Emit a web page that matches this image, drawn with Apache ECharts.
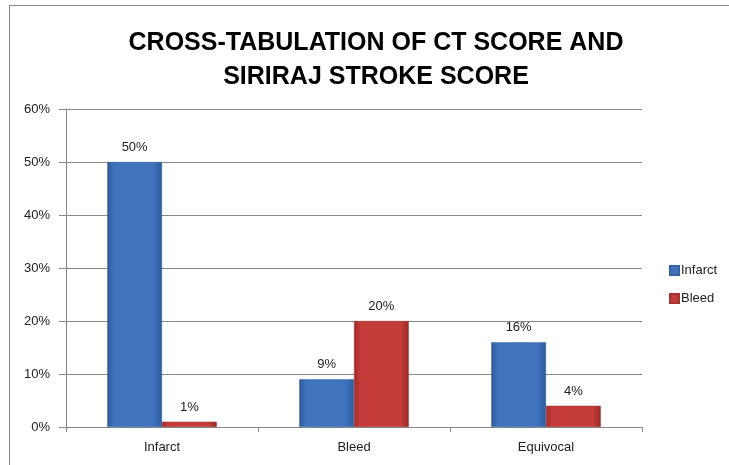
<!DOCTYPE html>
<html><head><meta charset="utf-8">
<script src="https://cdn.jsdelivr.net/npm/echarts@6/dist/echarts.min.js"></script>
<style>html,body{margin:0;padding:0;background:#fff}#c{width:729px;height:465px}</style>
</head><body><div id="c"></div>
<script>
const categories = ['Infarct', 'Bleed', 'Equivocal'];
const infarct = [50, 9, 16];
const bleed = [1, 20, 4];
const yTicks = [0, 10, 20, 30, 40, 50, 60];
const titleLines = ['CROSS-TABULATION OF CT SCORE AND', 'SIRIRAJ STROKE SCORE'];

const font = "'Liberation Sans', Arial, sans-serif";
function grad(edge, mid) {
  return new echarts.graphic.LinearGradient(0, 0, 1, 0, [
    {offset: 0, color: edge}, {offset: 0.12, color: mid}, {offset: 0.85, color: mid}, {offset: 1, color: edge}
  ]);
}
const chart = echarts.init(document.getElementById('c'), null, {renderer: 'canvas'});
chart.setOption({
  animation: false,
  backgroundColor: '#fff',
  title: {
    text: titleLines.join('\n'), left: 371, top: 21, textAlign: 'center',
    textStyle: {fontFamily: font, fontWeight: 'bold', fontSize: 25, color: '#000', lineHeight: 34}
  },
  graphic: [{type: 'rect', shape: {x: 9.5, y: 5.5, width: 740, height: 480}, style: {fill: 'none', stroke: '#888', lineWidth: 1}, silent: true}],
  legend: {
    orient: 'vertical', left: 664, top: 259, itemWidth: 9, itemHeight: 9, itemGap: 15, icon: 'rect',
    textStyle: {fontFamily: font, fontSize: 13, color: '#222', padding: [0, 0, 0, -3]},
    data: ['Infarct', 'Bleed']
  },
  grid: {left: 66, right: 87, top: 109, bottom: 38, containLabel: false},
  xAxis: {
    type: 'category', data: categories,
    axisLine: {lineStyle: {color: '#888'}},
    axisTick: {show: true, length: 5, lineStyle: {color: '#888'}},
    axisLabel: {fontFamily: font, fontSize: 13, color: '#222', margin: 14}
  },
  yAxis: {
    type: 'value', min: yTicks[0], max: yTicks[yTicks.length - 1], interval: 10,
    axisLine: {show: true, lineStyle: {color: '#888'}},
    axisTick: {show: true, length: 7, lineStyle: {color: '#888'}},
    splitLine: {lineStyle: {color: '#888'}},
    axisLabel: {fontFamily: font, fontSize: 13, color: '#222', margin: 16, formatter: v => v + '%'}
  },
  series: [
    {name: 'Infarct', type: 'bar', data: infarct, barGap: '0%', barCategoryGap: '43%',
     itemStyle: {color: grad('#2b5a98', '#3f73bd'), borderColor: '#35639f', borderWidth: 0.5},
     label: {show: true, position: 'top', distance: 8, formatter: p => p.value + '%', fontFamily: font, fontSize: 13, color: '#222'}},
    {name: 'Bleed', type: 'bar', data: bleed,
     itemStyle: {color: grad('#9c2a28', '#c43c39'), borderColor: '#a33330', borderWidth: 0.5},
     label: {show: true, position: 'top', distance: 8, formatter: p => p.value + '%', fontFamily: font, fontSize: 13, color: '#222'}}
  ]
});
</script></body></html>
